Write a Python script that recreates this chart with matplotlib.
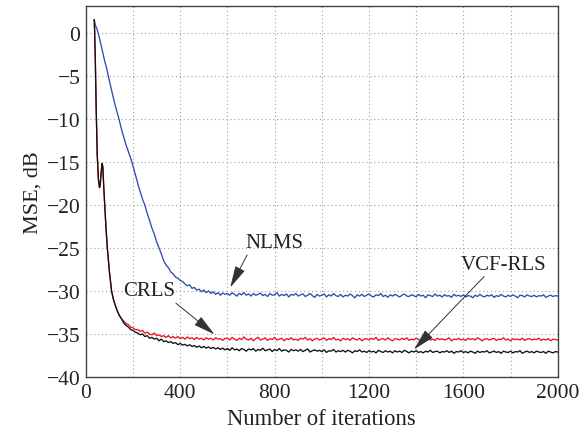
import matplotlib
matplotlib.use("Agg")
import matplotlib.pyplot as plt

plt.rcParams['font.family'] = ['Liberation Serif', 'DejaVu Serif']
plt.rcParams['mathtext.fontset'] = 'stix'

# ---------------- data ----------------
tail_iter = list(range(600, 2001, 10))

nlms_head_iter = [35, 40, 46, 52, 60, 70, 80, 88, 95, 105, 115, 125, 133, 140, 151, 160, 170, 180, 188, 196,
                  205, 215, 225, 234, 242, 250, 260, 270, 280, 290, 300, 310, 320, 330, 340, 350, 360, 370, 380,
                  390, 400, 410, 420, 430, 440, 450, 460, 470, 480, 490, 500, 510, 520, 530, 540, 550, 560, 570,
                  580, 590]
nlms_head_mse = [1.5, 0.9, 0.5, 0.0, -0.9, -2.1, -3.3, -4.1, -5.0, -6.2, -7.4, -8.5, -9.3, -10.0, -11.2, -12.1,
                 -13.0, -13.8, -14.4, -15.1, -16.0, -17.0, -18.0, -18.8, -19.5, -20.0, -21.0, -21.8, -22.7, -23.4,
                 -24.3, -25.0, -25.7, -26.5, -27.0, -27.3, -27.8, -28.0, -28.4, -28.5, -28.8, -28.9, -29.2, -29.4,
                 -29.3, -29.7, -29.6, -29.9, -29.8, -30.1, -29.9, -30.2, -30.0, -30.3, -30.1, -30.4, -30.2, -30.5,
                 -30.25, -30.4]
nlms_tail_mse = [
    -30.3, -30.5, -30.2, -30.4, -30.6, -30.3, -30.45, -30.2, -30.5, -30.35,
    -30.6, -30.3, -30.5, -30.4, -30.25, -30.55, -30.4, -30.65, -30.3, -30.5,
    -30.45, -30.2, -30.6, -30.4, -30.55, -30.35, -30.7, -30.4, -30.5, -30.3,
    -30.6, -30.45, -30.35, -30.65, -30.5, -30.3, -30.55, -30.75, -30.4, -30.6,
    -30.5, -30.35, -30.7, -30.45, -30.6, -30.3, -30.55, -30.65, -30.4, -30.7,
    -30.5, -30.6, -30.35, -30.55, -30.8, -30.45, -30.6, -30.4, -30.65, -30.5,
    -30.35, -30.6, -30.7, -30.45, -30.55, -30.3, -30.65, -30.5, -30.75, -30.45,
    -30.6, -30.4, -30.55, -30.7, -30.5, -30.35, -30.6, -30.65, -30.45, -30.55,
    -30.7, -30.4, -30.6, -30.5, -30.8, -30.45, -30.55, -30.65, -30.35, -30.6,
    -30.5, -30.7, -30.45, -30.6, -30.55, -30.75, -30.4, -30.6, -30.5, -30.65,
    -30.45, -30.7, -30.55, -30.6, -30.8, -30.5, -30.65, -30.4, -30.6, -30.7,
    -30.5, -30.6, -30.45, -30.75, -30.55, -30.65, -30.4, -30.6, -30.7, -30.5,
    -30.65, -30.45, -30.6, -30.8, -30.5, -30.55, -30.7, -30.45, -30.6, -30.65,
    -30.5, -30.7, -30.55, -30.6, -30.45, -30.75, -30.6, -30.5, -30.65, -30.55,
    -30.6]

common_iter = [36, 40, 44, 48, 53, 58, 61, 65, 69, 72, 76, 80, 85, 91, 100, 109, 117, 125, 133, 141, 150]
common_mse = [1.5, -3.0, -9.0, -14.0, -17.0, -18.0, -17.6, -16.2, -15.2, -15.6, -18.0, -20.0, -22.5, -25.0,
              -27.8, -30.0, -31.0, -31.7, -32.3, -32.8, -33.2]

mid_iter = list(range(160, 600, 10))
crls_mid_mse = [-33.5, -33.8, -33.9, -34.2, -34.3, -34.5, -34.5, -34.7, -34.6, -34.9, -34.8, -35.0, -35.1, -34.9,
                -35.2, -35.1, -35.3, -35.2, -35.4, -35.2, -35.45, -35.3, -35.5, -35.3, -35.55, -35.4, -35.6,
                -35.35, -35.55, -35.45, -35.65, -35.4, -35.6, -35.5, -35.7, -35.45, -35.6, -35.5, -35.7, -35.45,
                -35.6, -35.55, -35.75, -35.5]
vcf_mid_mse = [-33.7, -34.0, -34.2, -34.5, -34.6, -34.8, -34.9, -35.1, -35.0, -35.3, -35.2, -35.5, -35.4, -35.6,
               -35.5, -35.8, -35.6, -35.9, -35.8, -36.0, -35.9, -36.1, -36.0, -36.25, -36.1, -36.3, -36.2, -36.4,
               -36.25, -36.45, -36.35, -36.55, -36.4, -36.6, -36.45, -36.65, -36.5, -36.7, -36.55, -36.75, -36.6,
               -36.8, -36.65, -36.85]

crls_tail_mse = [
    -35.5, -35.7, -35.4, -35.6, -35.75, -35.5, -35.65, -35.35, -35.6, -35.7,
    -35.5, -35.8, -35.55, -35.4, -35.7, -35.6, -35.45, -35.75, -35.55, -35.65,
    -35.4, -35.7, -35.6, -35.5, -35.8, -35.55, -35.65, -35.45, -35.7, -35.6,
    -35.75, -35.5, -35.6, -35.4, -35.7, -35.55, -35.8, -35.6, -35.5, -35.7,
    -35.6, -35.45, -35.75, -35.55, -35.65, -35.4, -35.7, -35.6, -35.8, -35.5,
    -35.65, -35.55, -35.75, -35.45, -35.6, -35.7, -35.5, -35.8, -35.6, -35.55,
    -35.7, -35.5, -35.65, -35.4, -35.75, -35.6, -35.55, -35.7, -35.45, -35.65,
    -35.8, -35.55, -35.6, -35.7, -35.5, -35.65, -35.45, -35.75, -35.6, -35.7,
    -35.5, -35.65, -35.8, -35.55, -35.6, -35.45, -35.7, -35.6, -35.75, -35.5,
    -35.65, -35.55, -35.7, -35.6, -35.45, -35.8, -35.6, -35.65, -35.5, -35.7,
    -35.6, -35.75, -35.5, -35.65, -35.55, -35.7, -35.45, -35.6, -35.8, -35.6,
    -35.55, -35.7, -35.6, -35.5, -35.75, -35.6, -35.65, -35.45, -35.7, -35.6,
    -35.8, -35.55, -35.65, -35.6, -35.7, -35.5, -35.75, -35.6, -35.55, -35.7,
    -35.6, -35.65, -35.5, -35.75, -35.6, -35.7, -35.55, -35.8, -35.6, -35.65,
    -35.7]

vcf_tail_mse = [
    -36.7, -36.9, -36.6, -36.85, -36.75, -36.95, -36.7, -36.8, -37.0, -36.75,
    -36.85, -36.7, -37.0, -36.8, -36.9, -36.65, -36.95, -36.85, -36.75, -37.05,
    -36.8, -36.95, -36.7, -37.0, -36.85, -36.9, -37.1, -36.8, -36.95, -36.85,
    -37.0, -36.8, -37.05, -36.9, -36.75, -37.1, -36.95, -36.85, -37.0, -36.9,
    -37.05, -36.85, -37.15, -36.95, -37.0, -36.8, -37.1, -36.95, -37.05, -36.9,
    -37.1, -36.9, -37.0, -37.2, -36.95, -37.05, -36.85, -37.1, -37.0, -37.15,
    -36.95, -37.1, -37.0, -37.2, -36.9, -37.05, -37.15, -36.95, -37.1, -37.0,
    -37.2, -36.95, -37.1, -37.0, -37.15, -36.9, -37.05, -37.2, -37.0, -37.1,
    -36.95, -37.15, -37.05, -37.2, -37.0, -37.1, -36.9, -37.15, -37.05, -37.0,
    -37.2, -37.05, -37.1, -36.95, -37.15, -37.0, -37.25, -37.05, -37.1, -36.95,
    -37.15, -37.05, -37.2, -37.0, -37.1, -37.25, -37.0, -37.15, -37.05, -37.1,
    -36.95, -37.2, -37.1, -37.0, -37.15, -37.05, -37.25, -37.0, -37.1, -37.15,
    -37.0, -37.2, -37.05, -37.1, -36.95, -37.25, -37.1, -37.0, -37.15, -37.05,
    -37.2, -37.0, -37.1, -37.15, -37.05, -37.25, -37.0, -37.1, -37.2, -37.05,
    -37.1]

x_ticks = list(range(0, 2001, 200))
x_labels = ['0', '', '400', '', '800', '', '1200', '', '1600', '', '2000']
y_ticks = [-40, -35, -30, -25, -20, -15, -10, -5, 0]

# ---------------- figure ----------------
fig = plt.figure(figsize=(5.84, 4.39), dpi=100)
ax = fig.add_axes([0.147, 0.139, 0.808, 0.845])

nlms_x = nlms_head_iter + tail_iter
nlms_y = nlms_head_mse + nlms_tail_mse
crls_x = common_iter + mid_iter + tail_iter
crls_y = common_mse + crls_mid_mse + crls_tail_mse
vcf_x = common_iter + mid_iter + tail_iter
vcf_y = common_mse + vcf_mid_mse + vcf_tail_mse

ax.plot(nlms_x, nlms_y, color='#2d4cab', lw=0.95)
ax.plot(crls_x, crls_y, color='#e8141c', lw=0.95)
ax.plot(vcf_x, vcf_y, color='#111111', lw=0.95)

ax.set_xlim(0, 2000)
ax.set_ylim(-40, 3.1)
ax.set_xticks(x_ticks)
ax.set_xticklabels(x_labels)
ax.set_yticks(y_ticks)
ax.grid(True, linestyle=(0, (1, 2.5)), color='#a0a0a0', lw=0.8)
ax.tick_params(length=0, labelsize=15.5, pad=4, colors='#222222')
for s in ax.spines.values():
    s.set_color('#444444')
    s.set_linewidth(1.0)

ax.set_xlabel('Number of iterations', fontsize=16.3, color='#222222', labelpad=5)
ax.set_ylabel('MSE, dB', fontsize=16, color='#222222', labelpad=3)

arrow = dict(arrowstyle='-|>,head_length=0.9,head_width=0.22', color='#333333', lw=0.7,
             shrinkA=0, shrinkB=0)
ax.annotate('NLMS', xy=(612, -29.6), xytext=(800, -24.4), fontsize=15, ha='center', va='center',
            color='#222222', arrowprops=dict(arrow, relpos=(0.05, 0.0)))
ax.annotate('CRLS', xy=(545, -35.05), xytext=(268, -30.0), fontsize=15, ha='center', va='center',
            color='#222222', arrowprops=dict(arrow, relpos=(0.95, 0.0)))
ax.annotate('VCF-RLS', xy=(1391, -36.8), xytext=(1772, -26.9), fontsize=15, ha='center', va='center',
            color='#222222', arrowprops=dict(arrow, relpos=(0.3, 0.0)))

fig.savefig('out.png', dpi=100)
